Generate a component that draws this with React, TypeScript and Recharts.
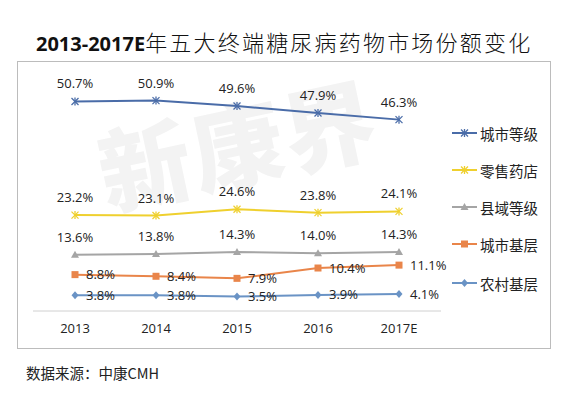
import { LineChart, Line, XAxis, YAxis, LabelList } from "recharts";

const years = ["2013", "2014", "2015", "2016", "2017E"];
const cityHospital = [50.7, 50.9, 49.6, 47.9, 46.3];
const retailPharmacy = [23.2, 23.1, 24.6, 23.8, 24.1];
const countyHospital = [13.6, 13.8, 14.3, 14.0, 14.3];
const cityGrassroots = [8.8, 8.4, 7.9, 10.4, 11.1];
const ruralGrassroots = [3.8, 3.8, 3.5, 3.9, 4.1];

const series = [
  { key: "cityHospital", name: "城市等级", values: cityHospital, color: "#4a6ca8", marker: "asterisk", pos: "top" },
  { key: "retailPharmacy", name: "零售药店", values: retailPharmacy, color: "#efd02e", marker: "asterisk", pos: "top" },
  { key: "countyHospital", name: "县域等级", values: countyHospital, color: "#a5a5a5", marker: "triangle", pos: "top" },
  { key: "cityGrassroots", name: "城市基层", values: cityGrassroots, color: "#e9854a", marker: "square", pos: "right" },
  { key: "ruralGrassroots", name: "农村基层", values: ruralGrassroots, color: "#6a93c5", marker: "diamond", pos: "right" },
];

const data = years.map((year, i) => {
  const row: Record<string, string | number> = { year };
  series.forEach((s) => (row[s.key] = s.values[i]));
  return row;
});

const labelFont = "'Open Sans', 'DejaVu Sans', sans-serif";
const cjkFont = "'Noto Sans CJK SC', sans-serif";

function Marker({ cx, cy, type, color }: { cx: number; cy: number; type: string; color: string }) {
  const r = 3.5;
  if (type === "asterisk") {
    return (
      <g stroke={color} strokeWidth={1.3}>
        <line x1={cx - r} y1={cy - r} x2={cx + r} y2={cy + r} />
        <line x1={cx - r} y1={cy + r} x2={cx + r} y2={cy - r} />
        <line x1={cx} y1={cy - r - 0.5} x2={cx} y2={cy + r + 0.5} />
      </g>
    );
  }
  if (type === "triangle") {
    return <path d={`M${cx},${cy - 4} L${cx + 4},${cy + 3} L${cx - 4},${cy + 3} Z`} fill={color} />;
  }
  if (type === "square") {
    return <rect x={cx - 3.5} y={cy - 3.5} width={7} height={7} fill={color} />;
  }
  return <path d={`M${cx},${cy - 4} L${cx + 3.5},${cy} L${cx},${cy + 4} L${cx - 3.5},${cy} Z`} fill={color} />;
}

export default function App() {
  return (
    <div style={{ position: "fixed", left: 0, top: 0, width: 572, height: 399, background: "#fff", overflow: "hidden" }}>
      <div
        style={{
          position: "absolute",
          left: 36,
          top: 26,
          height: 30,
          lineHeight: "30px",
          whiteSpace: "nowrap",
          color: "#111",
        }}
      >
        <span style={{ fontFamily: labelFont, fontWeight: 700, fontSize: 20 }}>2013-2017E</span>
        <span style={{ fontFamily: cjkFont, fontWeight: 300, fontSize: 22, letterSpacing: 2.2 }}>年五大终端糖尿病药物市场份额变化</span>
      </div>

      <div
        style={{
          position: "absolute",
          left: 85,
          top: 105,
          fontFamily: cjkFont,
          fontWeight: 900,
          fontSize: 92,
          color: "#f3f3f3",
          transform: "rotate(-12deg)",
          transformOrigin: "left top",
          letterSpacing: 2,
          whiteSpace: "nowrap",
        }}
      >
        新康界
      </div>

      <div
        style={{
          position: "absolute",
          left: 17,
          top: 61,
          width: 532,
          height: 286,
          border: "1px solid #bcbcbc",
        }}
      />

      <div style={{ position: "absolute", left: 0, top: 0 }}>
        <LineChart width={572} height={399} data={data} margin={{ top: 63, left: 33, right: 131, bottom: 58 }}>
          <XAxis
            dataKey="year"
            height={30}
            padding={{ left: 42, right: 42 }}
            axisLine={{ stroke: "#d0d0d0" }}
            tickLine={false}
            tickSize={0}
            tickMargin={13}
            tick={{ fill: "#222", fontSize: 13, fontFamily: labelFont }}
          />
          <YAxis hide width={0} domain={[0, 60]} />
          {series.map((s) => (
            <Line
              key={s.key}
              dataKey={s.key}
              name={s.name}
              stroke={s.color}
              strokeWidth={2}
              isAnimationActive={false}
              dot={(p: any) => <Marker key={`${s.key}-${p.index}`} cx={p.cx} cy={p.cy} type={s.marker} color={s.color} />}
              activeDot={false}
            >
              <LabelList
                dataKey={s.key}
                position={s.pos as any}
                offset={s.pos === "top" ? 13 : 11}
                formatter={(v: any) => `${Number(v).toFixed(1)}%`}
                style={{ fill: "#222", fontSize: 13, fontFamily: labelFont }}
              />
            </Line>
          ))}
        </LineChart>
      </div>

      <div style={{ position: "absolute", left: 450, top: 120 }}>
        {series.map((s, i) => (
          <div
            key={s.key}
            style={{ position: "absolute", left: 0, top: [0, 37, 74, 111, 150][i], height: 26, display: "flex", alignItems: "center" }}
          >
            <svg width={30} height={26}>
              <line x1={2} y1={13} x2={27} y2={13} stroke={s.color} strokeWidth={2} />
              <Marker cx={14.5} cy={13} type={s.marker} color={s.color} />
            </svg>
            <span style={{ fontFamily: cjkFont, fontSize: 14.5, color: "#222", whiteSpace: "nowrap" }}>{s.name}</span>
          </div>
        ))}
      </div>

      <div
        style={{
          position: "absolute",
          left: 26,
          top: 362,
          fontFamily: cjkFont,
          fontSize: 14.5,
          color: "#222",
          whiteSpace: "nowrap",
          lineHeight: "22px",
        }}
      >
        数据来源：中康CMH
      </div>
    </div>
  );
}
